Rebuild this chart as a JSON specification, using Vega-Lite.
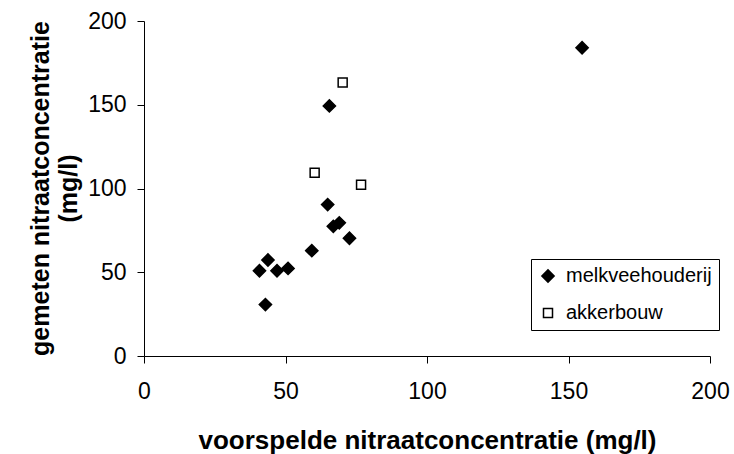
{
  "$schema": "https://vega.github.io/schema/vega-lite/v6.json",
  "autosize": {"type": "none"},
  "width": 566,
  "height": 335,
  "padding": {"left": 144, "top": 21, "right": 24, "bottom": 98},
  "background": "white",
  "config": {
    "view": {"stroke": null},
    "font": "Liberation Sans",
    "axis": {
      "grid": false,
      "domainColor": "black",
      "tickColor": "black",
      "labelColor": "black",
      "titleColor": "black",
      "labelFont": "Liberation Sans",
      "titleFont": "Liberation Sans",
      "labelFontSize": 23,
      "tickSize": 7,
      "labelFlush": false,
      "labelOverlap": false
    },
    "legend": {
      "title": null,
      "orient": "none",
      "legendX": 387,
      "legendY": 238,
      "strokeColor": "black",
      "fillColor": "white",
      "padding": 7,
      "rowPadding": 17,
      "labelFont": "Liberation Sans",
      "labelFontSize": 20,
      "labelColor": "black",
      "labelOffset": 8,
      "symbolStrokeColor": "black",
      "symbolStrokeWidth": 1.5
    }
  },
  "data": {
    "values": [
      {"voorspeld": 65.5, "gemeten": 149.3, "type": "melkveehouderij"},
      {"voorspeld": 64.9, "gemeten": 90.4, "type": "melkveehouderij"},
      {"voorspeld": 66.9, "gemeten": 77.4, "type": "melkveehouderij"},
      {"voorspeld": 69.0, "gemeten": 79.5, "type": "melkveehouderij"},
      {"voorspeld": 72.6, "gemeten": 70.3, "type": "melkveehouderij"},
      {"voorspeld": 59.3, "gemeten": 62.9, "type": "melkveehouderij"},
      {"voorspeld": 43.8, "gemeten": 57.3, "type": "melkveehouderij"},
      {"voorspeld": 40.8, "gemeten": 50.9, "type": "melkveehouderij"},
      {"voorspeld": 47.0, "gemeten": 50.9, "type": "melkveehouderij"},
      {"voorspeld": 50.9, "gemeten": 52.3, "type": "melkveehouderij"},
      {"voorspeld": 42.9, "gemeten": 30.7, "type": "melkveehouderij"},
      {"voorspeld": 154.8, "gemeten": 184.0, "type": "melkveehouderij"},
      {"voorspeld": 70.2, "gemeten": 163.3, "type": "akkerbouw"},
      {"voorspeld": 60.3, "gemeten": 109.4, "type": "akkerbouw"},
      {"voorspeld": 76.7, "gemeten": 102.2, "type": "akkerbouw"}
    ]
  },
  "mark": {"type": "point", "opacity": 1, "strokeWidth": 1.5},
  "encoding": {
    "x": {
      "field": "voorspeld",
      "type": "quantitative",
      "scale": {"domain": [0, 200], "nice": false},
      "axis": {
        "values": [0, 50, 100, 150, 200],
        "title": "voorspelde nitraatconcentratie (mg/l)",
        "titleFontSize": 26,
        "titleFontWeight": "bold",
        "titleY": 92.5,
        "titleBaseline": "alphabetic",
        "labelPadding": 17
      }
    },
    "y": {
      "field": "gemeten",
      "type": "quantitative",
      "scale": {"domain": [0, 200], "nice": false},
      "axis": {
        "values": [0, 50, 100, 150, 200],
        "title": ["gemeten nitraatconcentratie", "(mg/l)"],
        "titleFontSize": 25,
        "titleFontWeight": "bold",
        "titleX": -104,
        "titleY": 167,
        "titleAngle": 270,
        "titleAlign": "center",
        "titleBaseline": "middle",
        "titleLineHeight": 28,
        "labelPadding": 11
      }
    },
    "shape": {
      "field": "type",
      "type": "nominal",
      "scale": {"domain": ["melkveehouderij", "akkerbouw"], "range": ["diamond", "square"]}
    },
    "fill": {
      "field": "type",
      "type": "nominal",
      "scale": {"domain": ["melkveehouderij", "akkerbouw"], "range": ["black", "white"]}
    },
    "stroke": {
      "field": "type",
      "type": "nominal",
      "scale": {"domain": ["melkveehouderij", "akkerbouw"], "range": ["black", "black"]}
    },
    "size": {
      "field": "type",
      "type": "nominal",
      "scale": {"domain": ["melkveehouderij", "akkerbouw"], "range": [150, 81]}
    }
  }
}
